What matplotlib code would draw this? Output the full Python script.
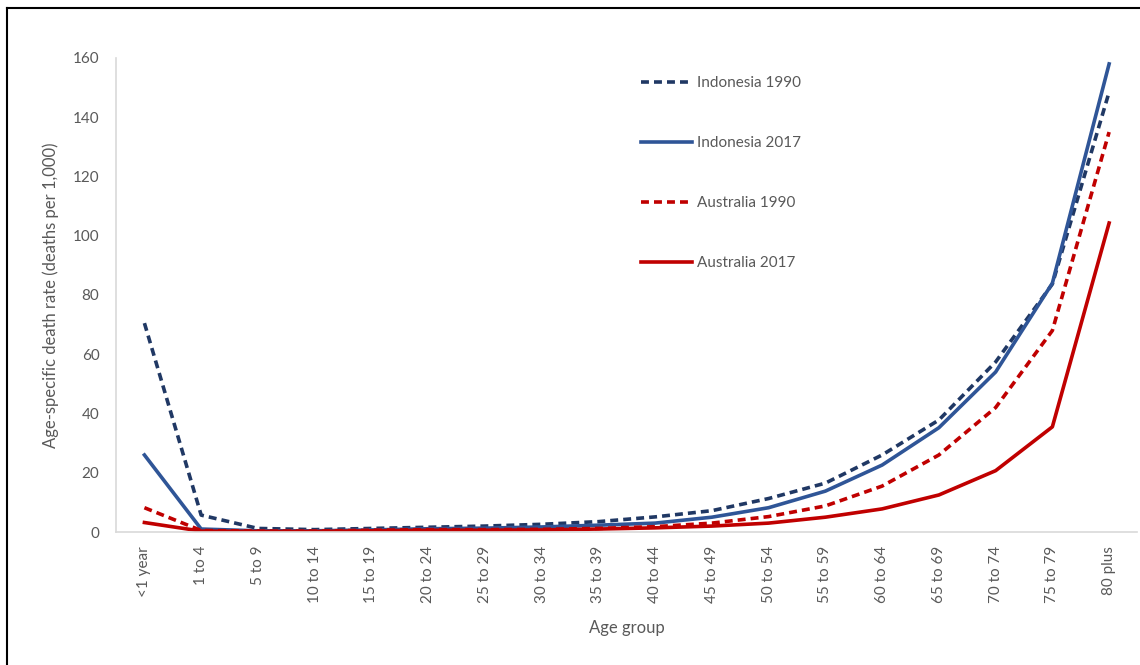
import matplotlib.pyplot as plt
from matplotlib.lines import Line2D

age_groups = ["<1 year", "1 to 4", "5 to 9", "10 to 14", "15 to 19", "20 to 24",
              "25 to 29", "30 to 34", "35 to 39", "40 to 44", "45 to 49", "50 to 54",
              "55 to 59", "60 to 64", "65 to 69", "70 to 74", "75 to 79", "80 plus"]

indonesia_1990 = [70.5, 5.7, 1.2, 0.8, 1.2, 1.6, 2.0, 2.6, 3.5, 5.1, 7.2, 11.3,
                  16.5, 26.0, 37.8, 57.4, 83.7, 148.5]
indonesia_2017 = [26.0, 1.0, 0.4, 0.4, 0.7, 1.1, 1.3, 1.7, 2.3, 3.0, 5.0, 8.2,
                  13.8, 22.6, 35.2, 54.0, 84.0, 158.0]
australia_1990 = [8.2, 0.5, 0.3, 0.3, 0.6, 0.8, 0.8, 0.9, 1.2, 1.8, 3.0, 5.2,
                  8.8, 15.5, 26.0, 42.0, 68.0, 135.0]
australia_2017 = [3.2, 0.3, 0.2, 0.2, 0.4, 0.6, 0.6, 0.7, 1.0, 1.4, 2.0, 3.0,
                  5.0, 7.8, 12.5, 20.7, 35.5, 104.3]

plt.rcParams['font.family'] = ['Lato', 'DejaVu Sans']
grey = '#595959'

fig = plt.figure(figsize=(11.4, 6.65), dpi=100)
ax = fig.add_axes([0.1018, 0.2, 0.896, 0.7128])

x = range(len(age_groups))
ax.plot(x, indonesia_1990, color='#203864', lw=2.6, ls=(0, (2.2, 1.4)), label='Indonesia 1990')
ax.plot(x, indonesia_2017, color='#2F5597', lw=2.6, label='Indonesia 2017')
ax.plot(x, australia_1990, color='#C00000', lw=2.6, ls=(0, (2.2, 1.4)), label='Australia 1990')
ax.plot(x, australia_2017, color='#C00000', lw=2.6, label='Australia 2017')

ax.set_xlim(-0.5, len(age_groups) - 0.5)
ax.set_ylim(0, 160)
ax.set_yticks(range(0, 161, 20))
ax.set_xticks(list(x))
ax.set_xticklabels(age_groups, rotation=90)
ax.tick_params(length=0, colors=grey, labelsize=11)
ax.tick_params(axis='x', pad=10)
ax.tick_params(axis='y', pad=12)

for s in ['top', 'right']:
    ax.spines[s].set_visible(False)
for s in ['left', 'bottom']:
    ax.spines[s].set_color('#D9D9D9')
    ax.spines[s].set_linewidth(1.2)

ax.set_xlabel('Age group', color=grey, fontsize=12, labelpad=12)
ax.set_ylabel('Age-specific death rate (deaths per 1,000)', color=grey, fontsize=12, labelpad=10)

leg = ax.legend(loc='upper left', bbox_to_anchor=(0.5, 0.99), frameon=False,
                fontsize=11, labelspacing=3.0, handlelength=3.4, handletextpad=0.3)
for t in leg.get_texts():
    t.set_color(grey)

# black frame on top and left edges
fig.add_artist(Line2D([0.0061, 1.0], [0.988, 0.988], color='black', lw=1.5, transform=fig.transFigure))
fig.add_artist(Line2D([0.0061, 0.0061], [0.0, 0.988], color='black', lw=1.5, transform=fig.transFigure))

fig.savefig('out.png', dpi=100)
